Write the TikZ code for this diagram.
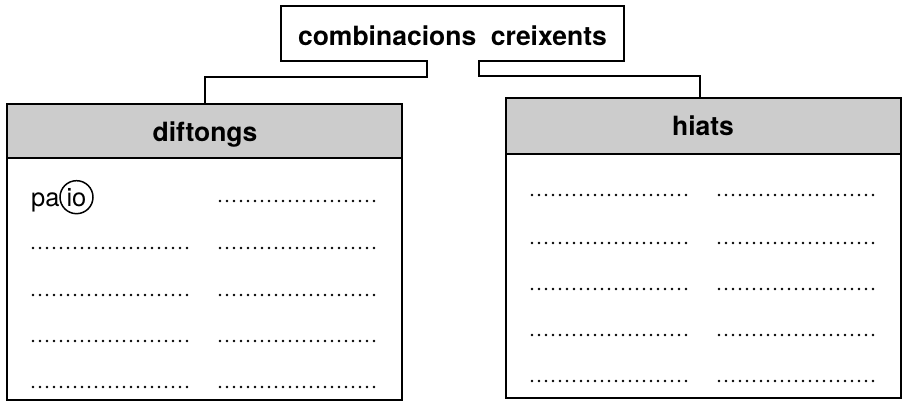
\documentclass[tikz,border=0pt]{standalone}
\usepackage{fontspec}
\setmainfont{TeX Gyre Heros}
\usetikzlibrary{calc}
\tikzset{
  frame/.style={draw=black, line width=1.6pt},
  headbox/.style={frame, fill=black!20, inner sep=0pt},
  bodybox/.style={frame, fill=white, inner sep=0pt},
  headtext/.style={font=\fontsize{26.5}{31}\selectfont\bfseries, inner sep=0pt, anchor=base},
  wordtext/.style={font=\fontsize{25.5}{30}\selectfont, inner sep=0pt},
  conn/.style={draw=black, line width=1.6pt},
  dotline/.style={draw=black, line width=2.7pt, line cap=round, dash pattern=on 0pt off 7pt}
}
\begin{document}
\begin{tikzpicture}[x=1pt,y=-1pt]
\useasboundingbox (0,0) rectangle (906,402);
% title
\node[minimum width=343pt, minimum height=55pt, inner sep=0pt] (title) at (452.5,33.5) {};
\node[headtext] (ttext) at (452.5,45) {combinacions\hspace{0.55em}creixents};
% left box
\node[bodybox, minimum width=395pt, minimum height=296pt] (dbox) at (204.5,252) {};
\node[headbox, minimum width=395pt, minimum height=54pt] (dhead) at (204.5,131) {};
\node[headtext] (dtext) at (205,141) {diftongs};
% right box
\node[bodybox, minimum width=395pt, minimum height=300pt] (hbox) at (703.5,248) {};
\node[headbox, minimum width=395pt, minimum height=56pt] (hhead) at (703.5,126) {};
\node[headtext] (htext) at (703,135) {hiats};
% title outline with gap and connectors
\coordinate (gl) at ($(title.south)+(-25.5,0)$);
\coordinate (gr) at ($(title.south)+(26.5,0)$);
\draw[conn, line join=miter] ($(dhead.north)+(0.5,0)$) -- ++(0,-26) -| (gl) -- (title.south west) -- (title.north west) -- (title.north east) -- (title.south east) -- (gr) |- ($(hhead.north)+(-3.5,-21)$) -- ($(hhead.north)+(-3.5,0)$);
% pa(io)
\node[wordtext, anchor=base west] (pa) at (31,206) {pa};
\node[wordtext, anchor=base, circle, draw, line width=1.5pt, minimum size=33pt] (io) at (76.5,206) {io};
% dotted lines left box
\foreach \y in {248,295,341,387} \draw[dotline] (33,\y) -- (192,\y);
\foreach \y in {201,248,295,341,387} \draw[dotline] (220,\y) -- (378,\y);
% dotted lines right box
\foreach \y in {195,243,289,335,381} {
  \draw[dotline] (532,\y) -- (689,\y);
  \draw[dotline] (719,\y) -- (878,\y);
}
\end{tikzpicture}
\end{document}
